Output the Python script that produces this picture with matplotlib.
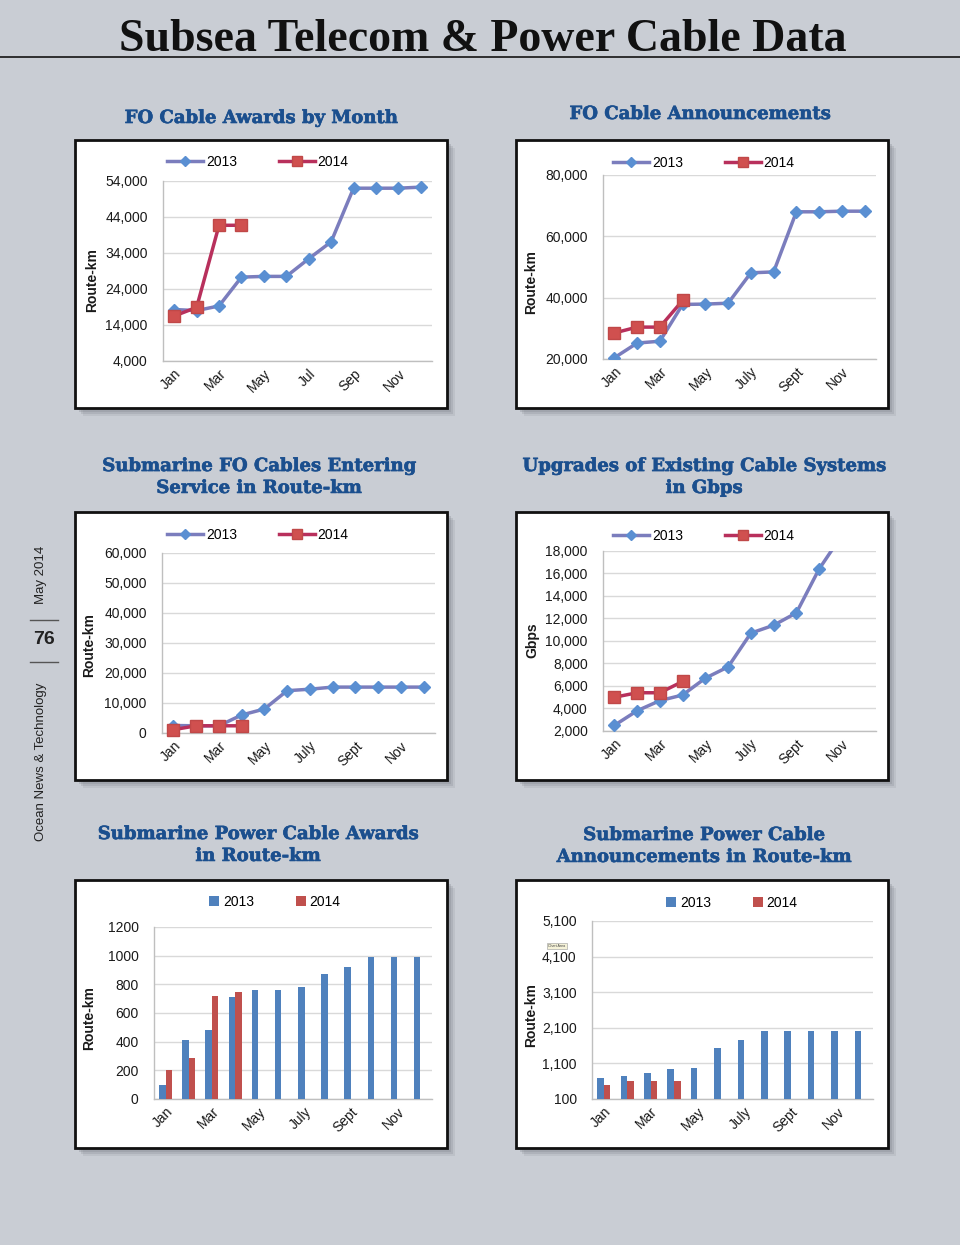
import matplotlib
matplotlib.use("Agg")
import matplotlib.pyplot as plt
from matplotlib.patches import Rectangle
from matplotlib.lines import Line2D
import matplotlib.patheffects as pe
import numpy as np

W, H = 960, 1245

months = ['Jan', 'Feb', 'Mar', 'Apr', 'May', 'Jun', 'Jul', 'Aug', 'Sep', 'Oct', 'Nov', 'Dec']
labels_short = ['Jan', '', 'Mar', '', 'May', '', 'Jul', '', 'Sep', '', 'Nov', '']
labels_long = ['Jan', '', 'Mar', '', 'May', '', 'July', '', 'Sept', '', 'Nov', '']

# FO Cable Awards by Month (route-km)
awards_2013 = [18300, 18000, 19300, 27300, 27500, 27500, 32400, 37100, 52000, 52000, 52000, 52300]
awards_2014 = [16500, 18900, 41700, 41700]
# FO Cable Announcements (route-km)
announce_2013 = [20400, 25200, 25800, 37800, 37900, 38200, 48100, 48400, 68000, 68000, 68200, 68200]
announce_2014 = [28500, 30400, 30400, 39100]
# Submarine FO Cables Entering Service (route-km)
service_2013 = [2500, 2400, 2400, 6000, 8000, 14100, 14600, 15300, 15300, 15300, 15300, 15300]
service_2014 = [1100, 2400, 2400, 2400]
# Upgrades of Existing Cable Systems (Gbps)
upgrades_2013 = [2500, 3800, 4700, 5200, 6700, 7700, 10700, 11400, 12500, 16400, 19400]
upgrades_2014 = [5000, 5400, 5400, 6400]
# Submarine Power Cable Awards (route-km)
pawards_2013 = [100, 410, 480, 710, 760, 760, 780, 870, 920, 990, 990, 990]
pawards_2014 = [200, 285, 720, 750]
# Submarine Power Cable Announcements (route-km)
pannounce_2013 = [700, 750, 840, 940, 970, 1540, 1750, 2000, 2000, 2000, 2000, 2000]
pannounce_2014 = [500, 600, 600, 600]

BG = '#c9cdd4'
TITLE_BLUE = '#1b4f8e'
LINE13 = '#7b7dbd'
MARK13 = '#5a8fd2'
LINE14 = '#b8305c'
MARK14 = '#d0504f'
BAR13 = '#4f81bd'
BAR14 = '#c0504d'

plt.rcParams['font.family'] = ['Liberation Sans', 'DejaVu Sans']

fig = plt.figure(figsize=(W / 100, H / 100), dpi=100, facecolor=BG)


def frac(x, y, w, h):
    return [x / W, 1 - (y + h) / H, w / W, h / H]


def px(x, y):
    return x / W, 1 - y / H


# Title
fx, fy = px(483, 40)
fig.text(fx, fy, 'Subsea Telecom & Power Cable Data', ha='center', va='center',
         fontsize=33, fontweight='bold', family=['Liberation Serif', 'DejaVu Serif'], color='#111111')
fig.add_artist(Line2D([0, 1], [1 - 57 / H, 1 - 57 / H], transform=fig.transFigure, color='#222222', lw=1.3))

# Side text
fig.text(*px(41, 575), 'May 2014', rotation=90, ha='center', va='center', fontsize=9.5, color='#222222')
fig.text(*px(44, 640), '76', ha='center', va='center', fontsize=14, fontweight='bold', color='#222222')
fig.text(*px(41, 762), 'Ocean News & Technology', rotation=90, ha='center', va='center', fontsize=9.5, color='#222222')
for yy in (620, 662):
    fig.add_artist(Line2D([30 / W, 58 / W], [1 - yy / H, 1 - yy / H], transform=fig.transFigure, color='#555555', lw=1))

panels = [(75, 140), (516, 140), (75, 512), (516, 512), (75, 880), (516, 880)]
PW, PH = 372, 268
for (x, y) in panels:
    for off, a in ((8, 0.15), (6, 0.22), (4, 0.28), (2, 0.3)):
        l, b, w, h = frac(x + off, y + off, PW, PH)
        fig.add_artist(Rectangle((l, b), w, h, transform=fig.transFigure, facecolor='#7d8189',
                                 edgecolor='none', alpha=a, zorder=-3))
    l, b, w, h = frac(x, y, PW, PH)
    fig.add_artist(Rectangle((l, b), w, h, transform=fig.transFigure, facecolor='white',
                             edgecolor='#111111', lw=2, zorder=-2))

# Panel titles
titles = [
    (261, 118, 'FO Cable Awards by Month'),
    (700, 114, 'FO Cable Announcements'),
    (259, 477, 'Submarine FO Cables Entering\nService in Route-km'),
    (704, 477, 'Upgrades of Existing Cable Systems\nin Gbps'),
    (258, 845, 'Submarine Power Cable Awards\nin Route-km'),
    (704, 846, 'Submarine Power Cable\nAnnouncements in Route-km'),
]
for x, y, t in titles:
    fig.text(*px(x, y), t, ha='center', va='center', fontsize=13, fontweight='bold',
             family=['DejaVu Serif'], color=TITLE_BLUE, linespacing=1.28,
             path_effects=[pe.withStroke(linewidth=0.45, foreground=TITLE_BLUE)])


def style_axes(ax, ticks, xlabels, ylim, yfmt):
    ax.set_facecolor('white')
    ax.set_xlim(-0.5, 11.5)
    ax.set_ylim(*ylim)
    ax.set_yticks(ticks)
    ax.set_yticklabels([yfmt(v) for v in ticks])
    ax.set_xticks(range(12))
    ax.set_xticklabels(xlabels, rotation=45, ha='right', rotation_mode='anchor')
    for s in ('top', 'right'):
        ax.spines[s].set_visible(False)
    for s in ('left', 'bottom'):
        ax.spines[s].set_color('#bfbfbf')
        ax.spines[s].set_linewidth(1)
    ax.grid(axis='y', color='#d9d9d9', lw=1)
    ax.set_axisbelow(True)
    ax.tick_params(axis='both', length=0, labelsize=10, colors='#1a1a1a')
    ax.tick_params(axis='y', pad=11)
    ax.tick_params(axis='x', pad=4)


comma = lambda v: f'{v:,.0f}'
plain = lambda v: f'{v:.0f}'


def line_panel(rect, s13, s14, ylim, ticks, xlabels, ylabel, ylab_pos, leg_pos):
    ax = fig.add_axes(frac(*rect))
    style_axes(ax, ticks, xlabels, ylim, comma)
    x13 = np.arange(len(s13))
    x14 = np.arange(len(s14))
    ax.plot(x13, s13, color=LINE13, lw=2.5, marker='D', markersize=6.5,
            markerfacecolor=MARK13, markeredgecolor=MARK13, label='2013', clip_on=True, zorder=3)
    ax.plot(x14, s14, color=LINE14, lw=2.5, marker='s', markersize=8.5,
            markerfacecolor=MARK14, markeredgecolor='#c04848', label='2014', clip_on=False, zorder=4)
    ax.legend(ncol=2, loc='center', bbox_to_anchor=px(*leg_pos), bbox_transform=fig.transFigure,
              frameon=False, fontsize=10, handlelength=2.6, columnspacing=3.0, handletextpad=0.2,
              markerscale=0.85)
    fig.text(*px(*ylab_pos), ylabel, rotation=90, ha='center', va='center', fontsize=10,
             fontweight='bold', color='#1a1a1a')
    return ax


def bar_panel(rect, s13, s14, ylim, ticks, xlabels, ylabel, ylab_pos, leg_pos, fmt):
    ax = fig.add_axes(frac(*rect))
    style_axes(ax, ticks, xlabels, ylim, fmt)
    bw = 0.28
    ax.bar(np.arange(len(s13)) - bw / 2, np.array(s13) - ylim[0], bottom=ylim[0], width=bw,
           color=BAR13, label='2013', zorder=3)
    ax.bar(np.arange(len(s14)) + bw / 2, np.array(s14) - ylim[0], bottom=ylim[0], width=bw,
           color=BAR14, label='2014', zorder=3)
    ax.legend(ncol=2, loc='center', bbox_to_anchor=px(*leg_pos), bbox_transform=fig.transFigure,
              frameon=False, fontsize=10, handlelength=0.7, handleheight=0.7, columnspacing=3.0,
              handletextpad=0.3)
    fig.text(*px(*ylab_pos), ylabel, rotation=90, ha='center', va='center', fontsize=10,
             fontweight='bold', color='#1a1a1a')
    return ax


line_panel((163, 181, 269, 180), awards_2013, awards_2014, (4000, 54000),
           [4000, 14000, 24000, 34000, 44000, 54000], labels_short, 'Route-km', (92, 280), (258, 162))
line_panel((603, 175, 273, 184), announce_2013, announce_2014, (20000, 80000),
           [20000, 40000, 60000, 80000], labels_long, 'Route-km', (531, 282), (704, 163))
line_panel((162, 553, 273, 180), service_2013, service_2014, (0, 60000),
           [0, 10000, 20000, 30000, 40000, 50000, 60000], labels_long, 'Route-km', (89, 645), (258, 535))
line_panel((603, 551, 273, 180), upgrades_2013, upgrades_2014, (2000, 18000),
           list(range(2000, 18001, 2000)), labels_long, 'Gbps', (532, 640), (704, 536))
bar_panel((154, 927, 278, 172), pawards_2013, pawards_2014, (0, 1200),
          list(range(0, 1201, 200)), labels_long, 'Route-km', (89, 1018), (275, 902), plain)
bar_panel((592, 921, 281, 178), pannounce_2013, pannounce_2014, (100, 5100),
          [100, 1100, 2100, 3100, 4100, 5100], labels_long, 'Route-km', (531, 1015), (732, 903), comma)

# small tooltip artifact in last panel
fig.text(*px(557, 946), 'Chart Area', ha='center', va='center', fontsize=2.6, color='#444444',
         bbox=dict(boxstyle='square,pad=0.3', facecolor='#f5f2d8', edgecolor='#999999', lw=0.4))

fig.savefig('out.png', dpi=100, facecolor=BG)
